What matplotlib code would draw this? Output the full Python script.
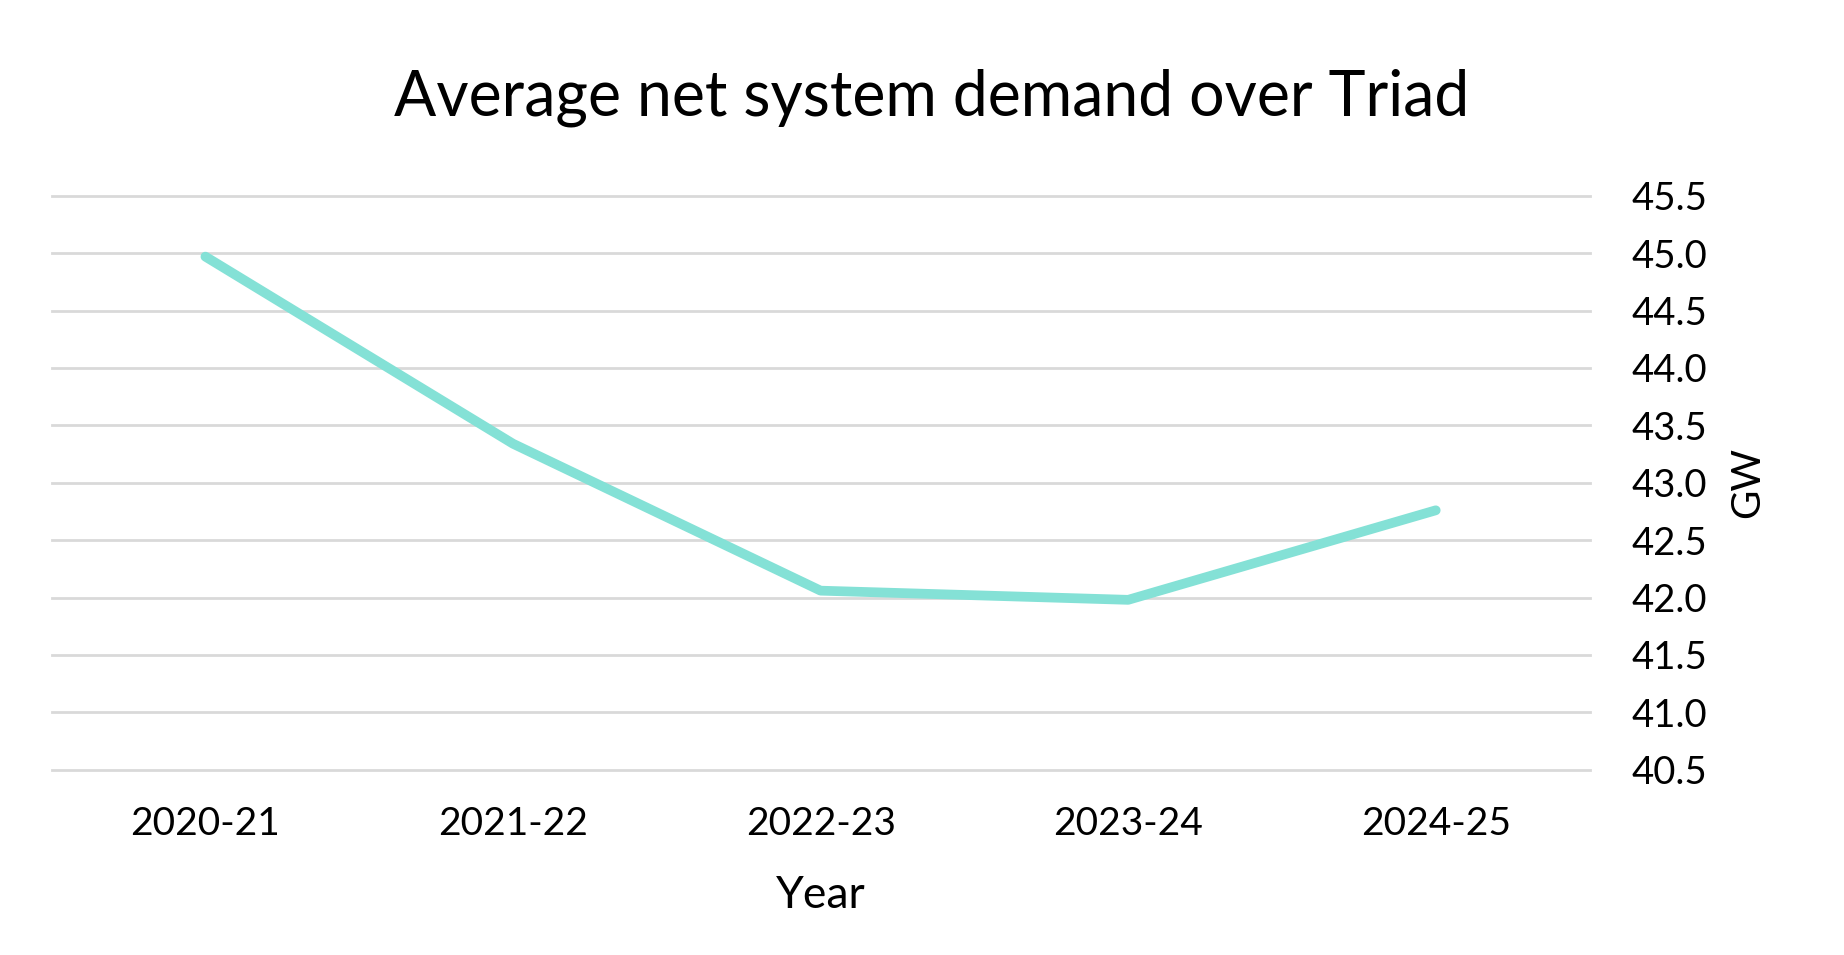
import matplotlib.pyplot as plt

# Data
years = ['2020-21', '2021-22', '2022-23', '2023-24', '2024-25']
demand_gw = [44.97, 43.34, 42.06, 41.98, 42.76]
y_ticks = [40.5, 41.0, 41.5, 42.0, 42.5, 43.0, 43.5, 44.0, 44.5, 45.0, 45.5]

plt.rcParams['font.family'] = ['Lato', 'DejaVu Sans']

fig = plt.figure(figsize=(18.44, 9.55), dpi=100)
ax = fig.add_axes([0.028, 0.194, 0.834, 0.601])

ax.plot(range(len(years)), demand_gw, color='#84E1D6', linewidth=7,
        solid_capstyle='round', solid_joinstyle='round', zorder=3)

ax.set_xlim(-0.5, len(years) - 0.5)
ax.set_ylim(40.5, 45.5)
ax.set_xticks(range(len(years)))
ax.set_xticklabels(years)
ax.set_yticks(y_ticks)
ax.set_yticklabels([f'{v:.1f}' for v in y_ticks])

ax.yaxis.tick_right()
ax.yaxis.set_label_position('right')
ax.grid(axis='y', color='#D9D9D9', linewidth=2, zorder=0)
for gl in ax.yaxis.get_gridlines():
    gl.set_clip_on(False)
ax.set_axisbelow(True)
for s in ax.spines.values():
    s.set_visible(False)
ax.tick_params(axis='y', length=0, labelsize=27.5, pad=30)
ax.tick_params(axis='x', length=0, labelsize=28, pad=26)

ax.set_xlabel('Year', fontsize=32, labelpad=24)
ax.set_ylabel('GW', fontsize=29, labelpad=16)
fig.suptitle('Average net system demand over Triad', fontsize=45, x=0.505, y=0.928)

fig.savefig('out.png', dpi=100, facecolor='white')
